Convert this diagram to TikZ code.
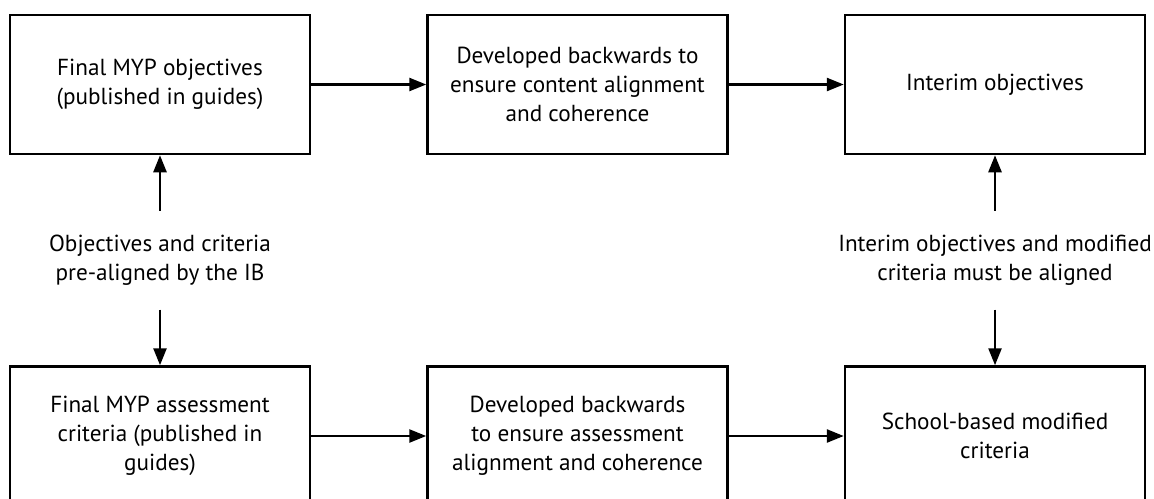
\documentclass[tikz,border=0pt]{standalone}
\usepackage{fontspec}
\setmainfont{PT Sans}
\usetikzlibrary{arrows.meta, positioning, calc}

\begin{document}
\begin{tikzpicture}[x=0.5pt, y=-0.5pt, node distance=57.5pt,
    box/.style={draw, rectangle, line width=1.25pt, minimum width=150pt, minimum height=69.5pt,
      inner sep=0pt, align=center, font=\fontsize{11.6}{14.6}\selectfont},
    note/.style={align=center, inner sep=0pt, outer sep=12pt, font=\fontsize{11.6}{14.6}\selectfont},
    arr/.style={-{Triangle[length=8.5pt, width=6.5pt]}, line width=1.25pt}]
    \useasboundingbox (0,0) rectangle (1154,498);
    % top row: objectives
    \node[box] (objfinal) at (160,84.5) {Final MYP objectives\\(published in guides)};
    \node[box, right=of objfinal] (objdev) {Developed backwards to\\ensure content alignment\\and coherence};
    \node[box, right=of objdev] (objinterim) {Interim objectives};
    % bottom row: criteria
    \node[box, below=105pt of objfinal] (critfinal) {Final MYP assessment\\criteria (published in\\guides)};
    \node[box, right=of critfinal] (critdev) {Developed backwards\\to ensure assessment\\alignment and coherence};
    \node[box, right=of critdev] (critschool) {School-based modified\\criteria};
    % alignment notes
    \node[note] (preIB) at ($(objfinal.south)!0.5!(critfinal.north)$) {Objectives and criteria\\pre-aligned by the IB};
    \node[note] (mustalign) at ($(objinterim.south)!0.5!(critschool.north)$) {Interim objectives and modified\\criteria must be aligned};

    \draw[arr] (objfinal) -- (objdev);
    \draw[arr] (objdev) -- (objinterim);
    \draw[arr] (critfinal) -- (critdev);
    \draw[arr] (critdev) -- (critschool);
    \draw[arr] (preIB) -- (objfinal);
    \draw[arr] (preIB) -- (critfinal);
    \draw[arr] (mustalign) -- (objinterim);
    \draw[arr] (mustalign) -- (critschool);
\end{tikzpicture}
\end{document}
